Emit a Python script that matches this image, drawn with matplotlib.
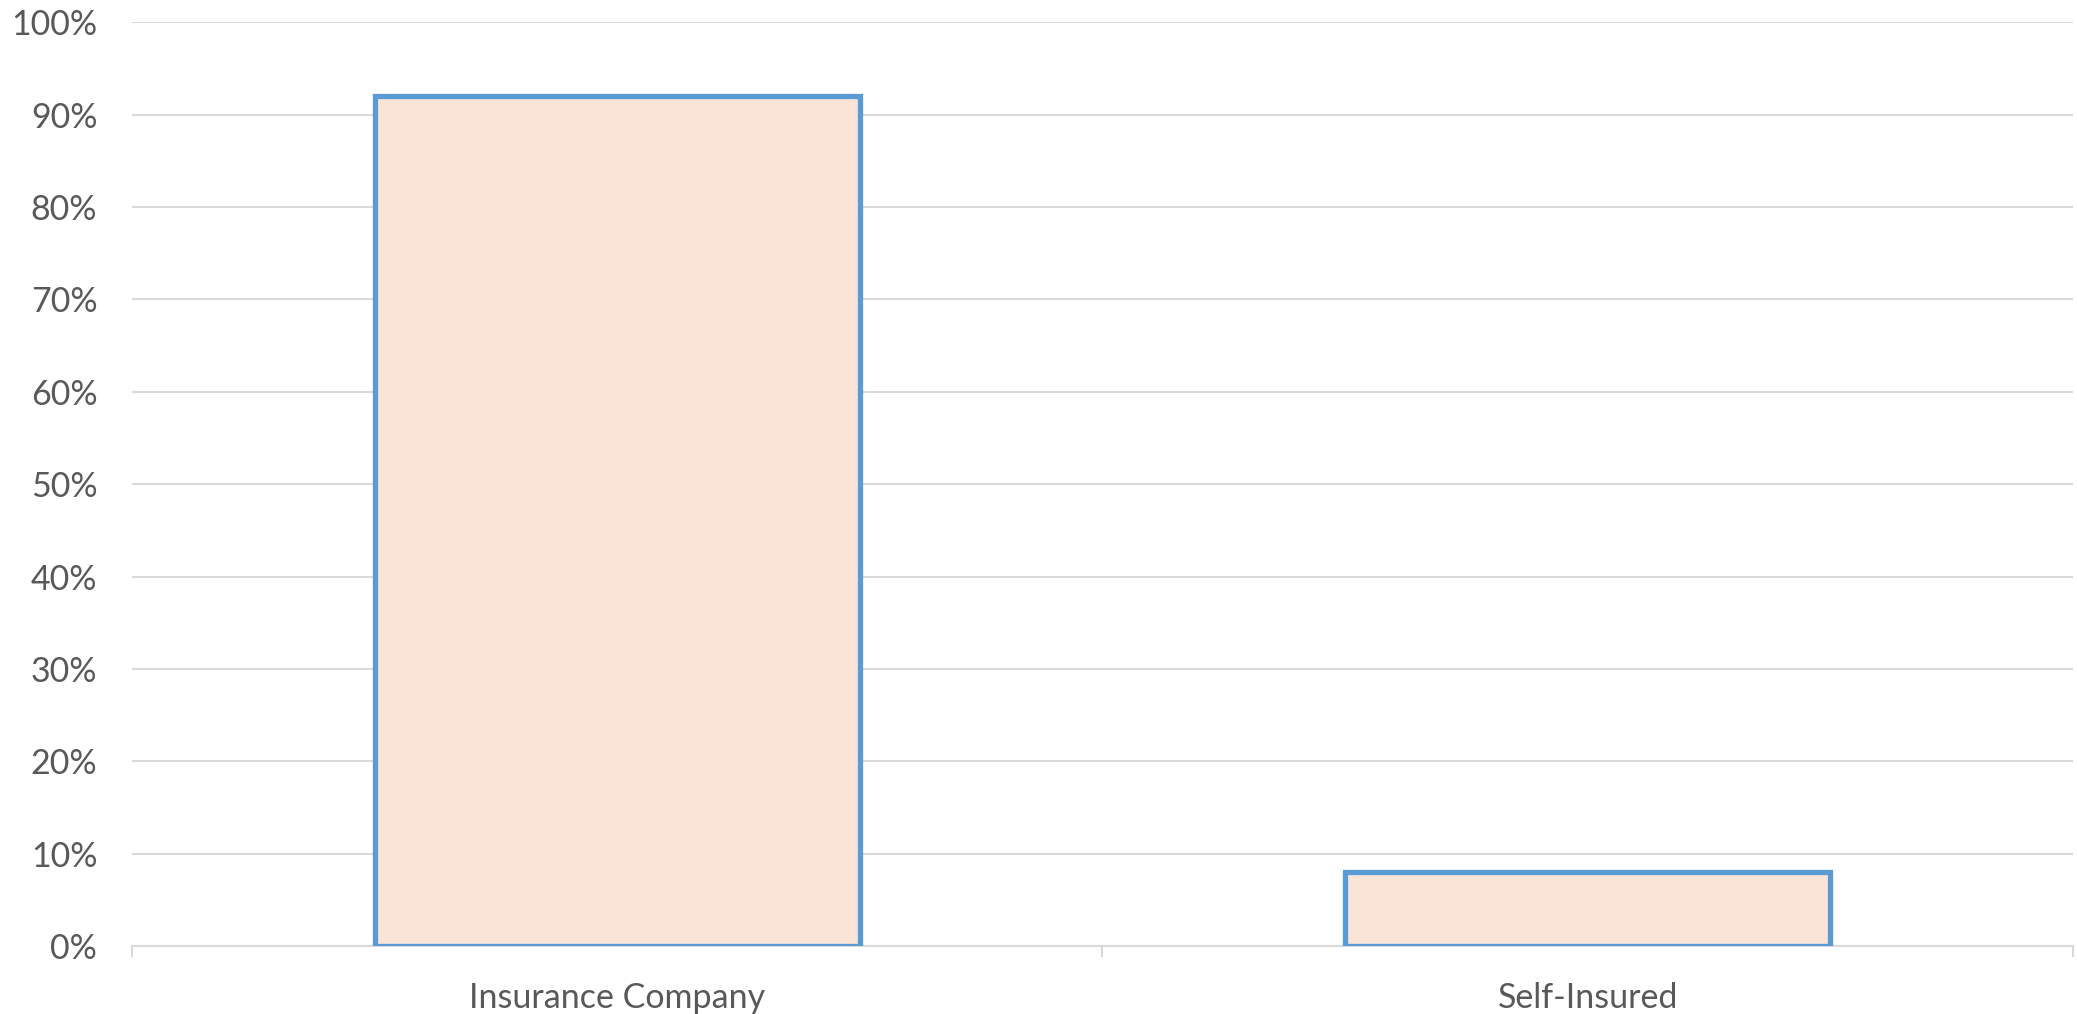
import matplotlib
matplotlib.use('Agg')
import matplotlib.pyplot as plt
from matplotlib.ticker import PercentFormatter, FixedLocator

plt.rcParams.update({
    'font.family': ['Lato', 'DejaVu Sans'],
    'font.size': 24.5,
    'text.color': '#595959',
    'xtick.color': '#595959',
    'ytick.color': '#595959',
})

categories = ['Insurance Company', 'Self-Insured']
shares = [92, 8]
y_ticks = list(range(0, 101, 10))

fig = plt.figure(figsize=(20.77, 10.14), dpi=100)
ax = fig.add_axes([0.0636, 0.067, 0.9344, 0.911])

xpos = list(range(len(categories)))
ax.bar(xpos, shares, width=0.5, color='#fae4d8', edgecolor='#5b9bd5',
       linewidth=3.8, zorder=3)

ax.set_xlim(-0.5, len(categories) - 0.5)
ax.set_ylim(0, 100)
ax.set_yticks(y_ticks)
ax.yaxis.set_major_formatter(PercentFormatter(decimals=0))
ax.yaxis.grid(True, color='#d9d9d9', linewidth=1.5, zorder=0)
ax.set_axisbelow(True)

ax.set_xticks(xpos)
ax.set_xticklabels(categories)
ax.xaxis.set_minor_locator(FixedLocator([i - 0.5 for i in range(len(categories) + 1)]))
ax.tick_params(axis='x', which='major', length=0, pad=26)
ax.tick_params(axis='x', which='minor', length=8, width=1.5, color='#d9d9d9')
ax.tick_params(axis='y', length=0, pad=25)

for side in ['top', 'right', 'left']:
    ax.spines[side].set_visible(False)
ax.spines['bottom'].set_color('#d9d9d9')
ax.spines['bottom'].set_linewidth(1.5)

fig.savefig('out.png', dpi=100)
